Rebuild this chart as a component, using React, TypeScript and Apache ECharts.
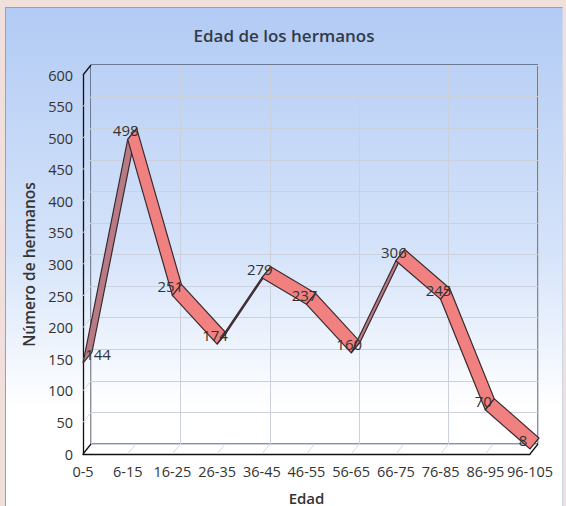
import React, { useEffect, useRef } from 'react';
import * as echarts from 'echarts';

const categories = ['0-5', '6-15', '16-25', '26-35', '36-45', '46-55', '56-65', '66-75', '76-85', '86-95', '96-105'];
const values = [144, 498, 251, 174, 279, 237, 160, 306, 245, 70, 8];
const yMin = 0;
const yMax = 600;
const yStep = 50;
const titleText = 'Edad de los hermanos';
const xName = 'Edad';
const yName = 'Número de hermanos';

const FONT = '"Open Sans", "Noto Sans", "DejaVu Sans", sans-serif';
const DEPTH = [8, -10];
const RIBBON_DEPTH = [9, -11];

export default function App() {
  const ref = useRef<HTMLDivElement>(null);

  useEffect(() => {
    const chart = echarts.init(ref.current!, null, { renderer: 'svg' });
    const frontGrid = { left: 77, right: 32, top: 67, bottom: 53 };
    const backGrid = { left: 85, right: 24, top: 57, bottom: 63 };
    const n = values.length;

    const option: any = {
      animation: false,
      backgroundColor: new echarts.graphic.LinearGradient(0, 0, 0, 1, [
        { offset: 0, color: '#b2cbf4' },
        { offset: 0.5, color: '#d6e4fa' },
        { offset: 0.8, color: '#ffffff' },
        { offset: 1, color: '#ffffff' },
      ]),
      title: {
        text: titleText,
        left: 'center',
        top: 14,
        textStyle: { fontFamily: FONT, fontSize: 17, fontWeight: 600, color: '#333a48' },
      },
      grid: [
        { ...frontGrid, outerBoundsMode: 'none', containLabel: false },
        {
          ...backGrid,
          outerBoundsMode: 'none',
          containLabel: false,
          show: true,
          borderColor: '#1e2333',
          borderWidth: 1,
          backgroundColor: 'transparent',
        },
      ],
      xAxis: [
        {
          type: 'category',
          gridIndex: 0,
          data: categories,
          boundaryGap: false,
          axisLine: { show: true, lineStyle: { color: '#111', width: 1.3 } },
          axisTick: { show: false },
          axisLabel: { interval: 0, color: '#333', fontSize: 14.5, fontFamily: FONT, margin: 10 },
          splitLine: { show: false },
          name: xName,
          nameLocation: 'middle',
          nameGap: 36,
          nameTextStyle: { fontFamily: FONT, fontSize: 15, lineHeight: 15, fontWeight: 600, color: '#333' },
        },
        {
          type: 'category',
          gridIndex: 1,
          data: categories,
          boundaryGap: false,
          axisLine: { show: false },
          axisTick: { show: false },
          axisLabel: { show: false },
          splitLine: { show: true, lineStyle: { color: '#cbd1dc', width: 1 } },
        },
      ],
      yAxis: [
        {
          type: 'value',
          gridIndex: 0,
          min: yMin,
          max: yMax,
          interval: yStep,
          axisLine: { show: true, lineStyle: { color: '#111', width: 1.3 } },
          axisTick: { show: false },
          axisLabel: { color: '#333', fontSize: 14.5, fontFamily: FONT, margin: 10 },
          splitLine: { show: false },
          name: yName,
          nameLocation: 'middle',
          nameGap: 45,
          nameTextStyle: { fontFamily: FONT, fontSize: 15.5, fontWeight: 600, color: '#333' },
        },
        {
          type: 'value',
          gridIndex: 1,
          min: yMin,
          max: yMax,
          interval: yStep,
          axisLine: { show: false },
          axisTick: { show: false },
          axisLabel: { show: false },
          splitLine: { show: true, lineStyle: { color: '#cbd1dc', width: 1 } },
        },
      ],
      series: [
        {
          type: 'custom',
          xAxisIndex: 0,
          yAxisIndex: 0,
          clip: false,
          z: 5,
          data: values.map((v, i) => [i, v]),
          encode: { x: 0, y: 1 },
          renderItem: (params: any, api: any) => {
            const i = params.dataIndex;
            const p = api.coord([i, values[i]]);
            const leftX = api.coord([0, 0])[0];
            const rightX = api.coord([n - 1, 0])[0];
            const children: any[] = [];
            if (i < n - 1) {
              const q = api.coord([i + 1, values[i + 1]]);
              const d = RIBBON_DEPTH;
              const pts = [
                [p[0], p[1]],
                [q[0], q[1]],
                [q[0] + d[0], q[1] + d[1]],
                [p[0] + d[0], p[1] + d[1]],
              ];
              const cross = (q[0] - p[0]) * d[1] - (q[1] - p[1]) * d[0];
              const under = cross > 0;
              children.push({
                type: 'polygon',
                shape: { points: pts },
                style: { fill: under ? '#b87a85' : '#f18080', stroke: '#3a2a2e', lineWidth: 1.2 },
              });
            }
            const lx = Math.min(Math.max(p[0] - 2, leftX + 15), rightX - 7);
            children.push({
              type: 'text',
              z2: 10,
              style: {
                text: String(values[i]),
                x: lx,
                y: p[1] - 9,
                align: 'center',
                verticalAlign: 'middle',
                fill: '#333',
                fontSize: 15,
                fontFamily: FONT,
              },
            });
            return { type: 'group', children };
          },
        },
      ],
    };

    chart.setOption(option);

    const px = (x: number, y: number) => chart.convertToPixel({ gridIndex: 0 } as any, [x, y]) as number[];
    const elements: any[] = [];
    const faint = { stroke: '#d3d8e2', lineWidth: 1 };
    const frame = { stroke: '#111', lineWidth: 1.3 };
    for (let v = yMin + yStep; v < yMax; v += yStep) {
      const a = px(0, v);
      elements.push({ type: 'line', z: 1, shape: { x1: a[0], y1: a[1], x2: a[0] + DEPTH[0], y2: a[1] + DEPTH[1] }, style: faint });
    }
    for (let k = 1; k < n - 1; k++) {
      const a = px(k, yMin);
      elements.push({ type: 'line', z: 1, shape: { x1: a[0], y1: a[1], x2: a[0] + DEPTH[0], y2: a[1] + DEPTH[1] }, style: faint });
    }
    const corners = [px(0, yMax), px(0, yMin), px(n - 1, yMin)];
    corners.forEach((a) => {
      elements.push({ type: 'line', z: 3, shape: { x1: a[0], y1: a[1], x2: a[0] + DEPTH[0], y2: a[1] + DEPTH[1] }, style: frame });
    });
    chart.setOption({ graphic: { elements } });

    return () => chart.dispose();
  }, []);

  return (
    <div style={{ position: 'fixed', left: 0, top: 0, width: 566, height: 506, background: '#f1dfdc', overflow: 'hidden' }}>
      <div
        style={{
          position: 'absolute',
          left: 5,
          top: 7,
          borderLeft: '1px solid #8ea2c4',
          borderTop: '1px solid #8ea2c4',
          borderRight: '1px solid #c9d6ea',
        }}
      >
        <div ref={ref} style={{ width: 556, height: 499 }} />
      </div>
    </div>
  );
}
